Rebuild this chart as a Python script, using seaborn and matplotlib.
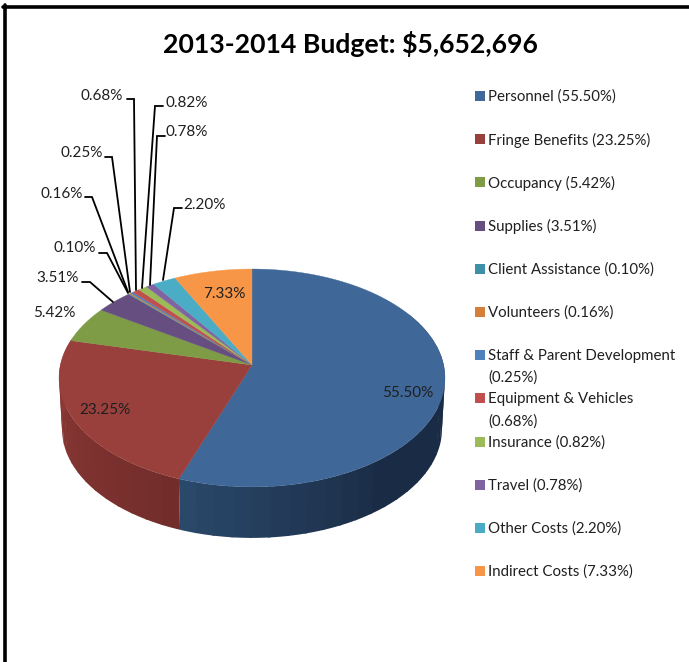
import numpy as np
import matplotlib
matplotlib.use("Agg")
import matplotlib.pyplot as plt
import seaborn as sns

# Budget shares, listed clockwise from twelve o'clock
categories = ["Personnel", "Fringe Benefits", "Occupancy", "Supplies", "Client Assistance",
              "Volunteers", "Staff & Parent Development", "Equipment & Vehicles",
              "Insurance", "Travel", "Other Costs", "Indirect Costs"]
shares = [55.50, 23.25, 5.42, 3.51, 0.10, 0.16, 0.25, 0.68, 0.82, 0.78, 2.20, 7.33]
face_colors = ["#3f6797", "#9a403c", "#7e9b46", "#664e80", "#3d90a8", "#d4803a",
               "#4f81bd", "#c0504d", "#9bbb59", "#8064a2", "#4bacc6", "#f79646"]
legend_wraps = {6: "Staff & Parent Development\n(0.25%)", 7: "Equipment & Vehicles\n(0.68%)"}
title_text = "2013-2014 Budget: $5,652,696"

sns.set_theme(style="white")
plt.rcParams["font.family"] = ["Lato", "DejaVu Sans"]
palette = sns.color_palette(face_colors)
TEXT = "#1f1f1f"

W, H = 689, 662
fig = plt.figure(figsize=(W / 100, H / 100), dpi=100, facecolor="white")
ax = fig.add_axes([0, 0, 1, 1])
ax.set_xlim(0, W)
ax.set_ylim(H, 0)
ax.axis("off")

# Perspective projection of the unit disc (Y points away from the viewer)
CX, CY_TOP, CY_BOTTOM = 252, 365, 416
TILT = 0.119
A_TOP, A_BOTTOM, B = 191.6, 188.6, 107.4


def project(theta, r=1.0, cy=CY_TOP, a=A_TOP):
    X, Y = r * np.sin(theta), r * np.cos(theta)
    w = 1 + TILT * Y
    return CX + a * X / w, cy - B * Y / w


def lerp_color(c0, c1, t):
    c0, c1 = np.array(matplotlib.colors.to_rgb(c0)), np.array(matplotlib.colors.to_rgb(c1))
    return tuple(c0 + (c1 - c0) * np.clip(t, 0, 1))


edges = np.radians(np.concatenate([[0], np.cumsum(shares)]) * 3.6)


# Side wall of the disc, shaded in bands that each follow the rim closely
def wall(start, end, shade, band=np.radians(5.0)):
    t0 = start
    while t0 < end:
        t1 = min(t0 + band * 1.15, end)
        theta = np.linspace(t0, t1, 12)
        xt, yt = project(theta)
        xb, yb = project(theta[::-1], cy=CY_BOTTOM, a=A_BOTTOM)
        ax.fill(np.r_[xt, xb], np.r_[yt, yb], facecolor=shade(t0), edgecolor="none", zorder=1)
        t0 += band


wall(np.radians(60), edges[1],
     lambda t: lerp_color("#1a2c45", "#2b4a6d", (t - np.radians(140)) / (edges[1] - np.radians(140))))
wall(edges[1], np.radians(285),
     lambda t: lerp_color("#722d2b", "#8f3a37", (t - edges[1]) / (np.radians(275) - edges[1])))

# Top face
for i, color in enumerate(palette):
    theta = np.linspace(edges[i], edges[i + 1], max(int(shares[i] * 4), 3))
    xs, ys = project(theta)
    ax.fill(np.r_[CX, xs], np.r_[CY_TOP, ys], color=color, lw=0.25, zorder=2)

# Value labels placed directly on or beside the slices
LABEL_FS = 11.0
LEGEND_FS = 10.8
label_spots = {0: (408, 393, "center"), 1: (105, 410, "center"), 2: (33, 313, "left"), 11: (224, 294, "center")}
for i, (x, y, ha) in label_spots.items():
    ax.text(x, y, f"{shares[i]:.2f}%", ha=ha, va="center", fontsize=LABEL_FS, color=TEXT, zorder=4)

# Leader lines: label index -> text anchor, elbow start, elbow end, slice anchor
leaders = {
    3: ((79, 278, "right"), (82, 282), (90, 282), (113, 302)),
    4: ((96, 248, "right"), (99, 253), (107, 253), (128, 293)),
    5: ((83, 194, "right"), (85, 197), (92, 197), (128, 292)),
    6: ((103, 153, "right"), (105, 157), (112, 157), (130, 292)),
    7: ((123, 96, "right"), (127, 99), (134, 99), (136, 290)),
    8: ((165, 103, "left"), (163, 106), (155, 106), (142, 288)),
    9: ((166, 132, "left"), (165, 136), (157, 136), (150, 285)),
    10: ((183, 205, "left"), (182, 208), (174, 208), (163, 280)),
}
for i, (txt, p0, p1, p2) in leaders.items():
    ax.plot([p0[0], p1[0], p2[0]], [p0[1], p1[1], p2[1]], color="black", lw=1.3,
            solid_joinstyle="miter", zorder=3)
    ax.text(txt[0], txt[1], f"{shares[i]:.2f}%", ha=txt[2], va="center",
            fontsize=LABEL_FS, color=TEXT, zorder=4)

# Legend rows at a fixed pitch; long entries simply wrap into the gap below
for i, (name, share, color) in enumerate(zip(categories, shares, palette)):
    y = 96 + i * 43.2
    ax.scatter([479.5], [y], marker="s", s=46, color=color, linewidths=0, zorder=4)
    label = legend_wraps.get(i, f"{name} ({share:.2f}%)")
    first, *rest = label.split("\n")
    ax.text(488, y + 0.8, first, ha="left", va="center", fontsize=LEGEND_FS, color=TEXT, zorder=4)
    if rest:
        ax.text(488, y + 22.8, rest[0], ha="left", va="center",
                fontsize=LEGEND_FS, color=TEXT, zorder=4)

ax.text(350, 44, title_text, ha="center", va="center", fontsize=19.2, fontweight="bold",
        color="black", zorder=4)

# Heavy frame along the top and left
ax.axvline(4.5, color="black", lw=2.6, ymin=0, ymax=1 - 5 / H, zorder=5)
ax.axhline(6.5, color="black", lw=2.6, xmin=3 / W, xmax=1, zorder=5)

fig.savefig("out.png", dpi=100, facecolor="white")
